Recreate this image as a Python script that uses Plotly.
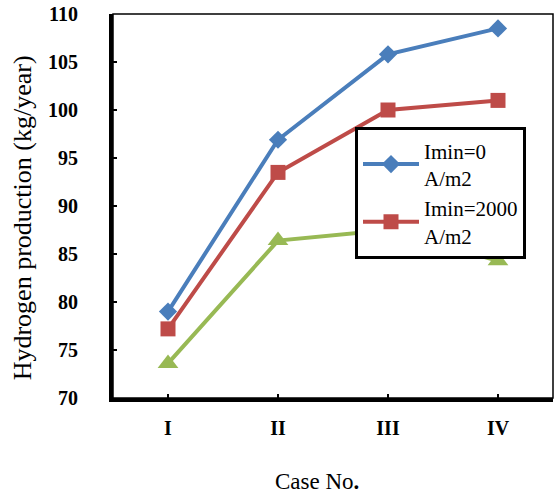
import plotly.graph_objects as go

cases = ["I", "II", "III", "IV"]
imin_0 = [79.0, 96.9, 105.8, 108.5]
imin_2000 = [77.2, 93.5, 100.0, 101.0]
third_series = [73.6, 86.4, 87.5, 84.3]

series_names = ["Imin=0<br>A/m2", "Imin=2000<br>A/m2", "Series3"]
colors = ["#4A7EBB", "#BE4B48", "#98B954"]

serif = "Liberation Serif"

fig = go.Figure()
fig.add_trace(go.Scatter(
    x=cases, y=imin_0, name=series_names[0], mode="lines+markers",
    line=dict(color=colors[0], width=4),
    marker=dict(symbol="diamond", size=14, color=colors[0]),
))
fig.add_trace(go.Scatter(
    x=cases, y=imin_2000, name=series_names[1], mode="lines+markers",
    line=dict(color=colors[1], width=4),
    marker=dict(symbol="square", size=15, color=colors[1]),
))
fig.add_trace(go.Scatter(
    x=cases, y=third_series, name=series_names[2], mode="lines+markers",
    line=dict(color=colors[2], width=4),
    marker=dict(symbol="triangle-up", size=18, color=colors[2]),
    showlegend=False,
))

fig.update_layout(
    width=555, height=495,
    margin=dict(l=113, r=2, t=14, b=97),
    paper_bgcolor="white", plot_bgcolor="white",
    font=dict(family=serif, color="black"),
    showlegend=True,
    legend=dict(
        x=0.55, y=0.705, xanchor="left", yanchor="top",
        bgcolor="white", bordercolor="black", borderwidth=3,
        font=dict(family=serif, size=21, color="black"),
        tracegroupgap=0, itemwidth=56,
        entrywidth=175, entrywidthmode="pixels",
    ),
    xaxis=dict(
        type="category", range=[-0.5, 3.5],
        showgrid=False, zeroline=False,
        showline=True, linecolor="black", linewidth=4,
        ticks="inside", ticklen=4, tickwidth=2, tickcolor="black",
        tickfont=dict(family=serif, size=20, color="black", weight="bold"),
        ticklabelstandoff=9,
    ),
    yaxis=dict(
        range=[70, 110], dtick=5,
        showgrid=False, zeroline=False,
        showline=True, linecolor="black", linewidth=4,
        ticks="inside", ticklen=4, tickwidth=2, tickcolor="black",
        tickfont=dict(family=serif, size=20, color="black", weight="bold"),
        ticklabelstandoff=27,
    ),
    shapes=[dict(
        type="rect", xref="paper", yref="paper", x0=0, x1=1, y0=0, y1=1,
        line=dict(color="black", width=1.5), layer="below",
    )],
    annotations=[
        dict(text="Hydrogen production (kg/year)", xref="paper", yref="paper",
             x=-0.205, y=0.47, textangle=-90, showarrow=False,
             xanchor="center", yanchor="middle",
             font=dict(family=serif, size=26, color="black")),
        dict(text="Case No<b>.</b>", xref="paper", yref="paper",
             x=0.464, y=-0.218, showarrow=False,
             xanchor="center", yanchor="middle",
             font=dict(family=serif, size=23, color="black")),
    ],
)

fig.write_html("out.html")
